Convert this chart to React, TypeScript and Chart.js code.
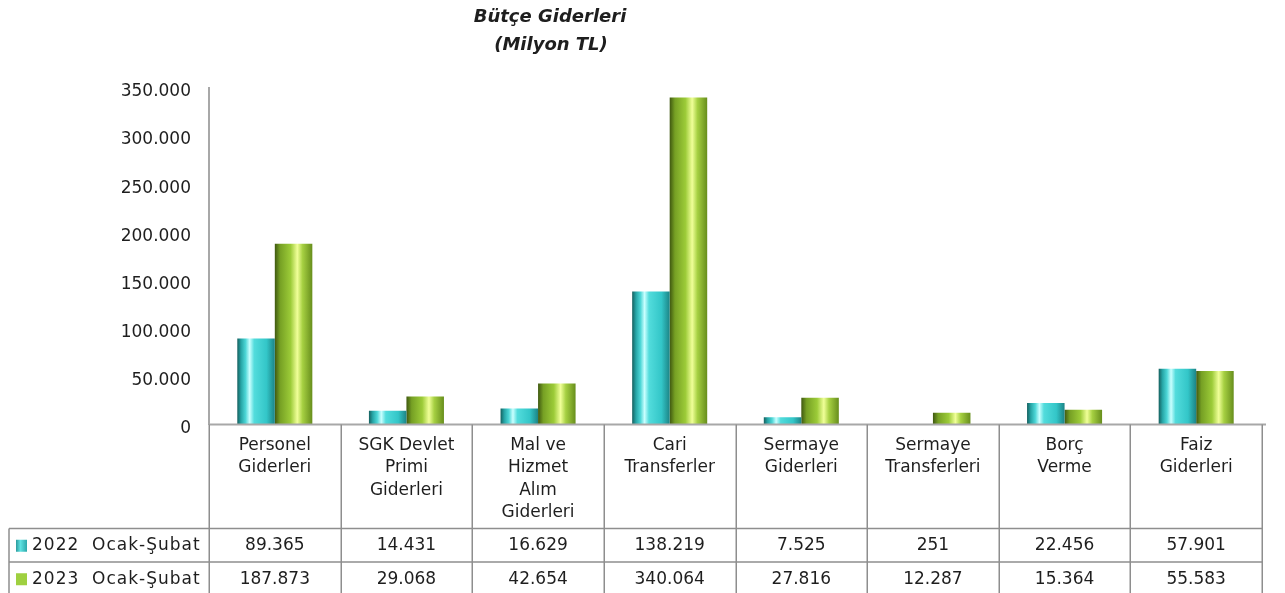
import React, { useEffect, useRef } from "react";
import { Chart, registerables } from "chart.js";

Chart.register(...registerables);

const title = ["Bütçe Giderleri", "(Milyon TL)"];
const categories: string[][] = [
  ["Personel", "Giderleri"],
  ["SGK Devlet", "Primi", "Giderleri"],
  ["Mal ve", "Hizmet", "Alım", "Giderleri"],
  ["Cari", "Transferler"],
  ["Sermaye", "Giderleri"],
  ["Sermaye", "Transferleri"],
  ["Borç", "Verme"],
  ["Faiz", "Giderleri"],
];
const seriesNames = ["2022  Ocak-Şubat", "2023  Ocak-Şubat"];
const values2022 = [89365, 14431, 16629, 138219, 7525, 251, 22456, 57901];
const values2023 = [187873, 29068, 42654, 340064, 27816, 12287, 15364, 55583];
const yTickValues = [0, 50000, 100000, 150000, 200000, 250000, 300000, 350000];

const FONT = "'DejaVu Sans', sans-serif";
const TEXT = "#1e1e1e";
const LINE = "#8e8e8e";
const CAT_PCT = 0.57;

const fmt = (v: number) => String(Math.round(v)).replace(/\B(?=(\d{3})+(?!\d))/g, ".");

const gradStops: [number, string][][] = [
  [
    [0, "#15605f"],
    [0.1, "#26a5a6"],
    [0.22, "#4cd6d6"],
    [0.33, "#c9ffff"],
    [0.45, "#52dcdc"],
    [0.78, "#33c6c8"],
    [1, "#1c8486"],
  ],
  [
    [0, "#3f5810"],
    [0.14, "#76a024"],
    [0.42, "#9ccb38"],
    [0.6, "#f0ff98"],
    [0.74, "#a6d042"],
    [1, "#678e1c"],
  ],
];
const baseColors = ["#33c6c8", "#9ccb38"];

function makeGrad(ctx: CanvasRenderingContext2D, x0: number, x1: number, idx: number) {
  const g = ctx.createLinearGradient(x0, 0, x1, 0);
  for (const [o, c] of gradStops[idx]) g.addColorStop(o, c);
  return g;
}

const barFill = (c: any) => {
  const chart = c.chart;
  const xs = chart.scales?.x;
  if (!xs || c.type !== "data" || !chart.chartArea) return baseColors[c.datasetIndex];
  const catW = xs.width / categories.length;
  const barW = (catW * CAT_PCT) / 2;
  const center = xs.getPixelForValue(c.dataIndex);
  const left = center - barW + c.datasetIndex * barW;
  return makeGrad(chart.ctx, left, left + barW, c.datasetIndex);
};

const tablePlugin = {
  id: "tablePlugin",
  afterDraw(chart: any) {
    const ctx: CanvasRenderingContext2D = chart.ctx;
    const area = chart.chartArea;
    const xs = chart.scales.x;
    const H = chart.height;
    const n = categories.length;
    const catW = xs.width / n;
    const headerBottom = area.bottom + 104;
    const rowH = 33.5;
    const tableLeft = 1;

    ctx.save();
    // title
    ctx.fillStyle = TEXT;
    ctx.font = `italic bold 18px ${FONT}`;
    ctx.textAlign = "center";
    ctx.textBaseline = "middle";
    ctx.fillText(title[0], 542, 9);
    ctx.fillText(title[1], 543, 37);

    // x axis line
    ctx.strokeStyle = "#a8a8a8";
    ctx.lineWidth = 2;
    ctx.beginPath();
    ctx.moveTo(area.left, area.bottom);
    ctx.lineTo(area.right + 4, area.bottom);
    ctx.stroke();

    // table grid
    ctx.strokeStyle = LINE;
    ctx.lineWidth = 1.5;
    ctx.beginPath();
    for (let i = 0; i <= n; i++) {
      const x = Math.round(xs.left + i * catW) + 0.25;
      ctx.moveTo(x, area.bottom);
      ctx.lineTo(x, H);
    }
    ctx.moveTo(tableLeft, headerBottom);
    ctx.lineTo(tableLeft, H);
    for (let r = 0; r < 2; r++) {
      const y = headerBottom + r * rowH;
      ctx.moveTo(tableLeft, y);
      ctx.lineTo(area.right, y);
    }
    ctx.stroke();

    // header labels
    ctx.fillStyle = TEXT;
    ctx.font = `17px ${FONT}`;
    ctx.textAlign = "center";
    ctx.textBaseline = "middle";
    categories.forEach((lines, i) => {
      const cx = xs.getPixelForValue(i);
      lines.forEach((t, k) => ctx.fillText(t, cx, area.bottom + 21 + k * 22.5));
    });

    // rows
    const data = [values2022, values2023];
    data.forEach((vals, r) => {
      const cy = headerBottom + r * rowH + rowH / 2 + 0.5;
      // icon
      const ix = 8, iw = 11, ih = 12;
      if (r === 0) {
        const g = ctx.createLinearGradient(ix, 0, ix + iw, 0);
        g.addColorStop(0, "#2a9a9c");
        g.addColorStop(0.4, "#5fe2e2");
        g.addColorStop(1, "#2ca8aa");
        ctx.fillStyle = g;
      } else {
        ctx.fillStyle = "#9fd040";
      }
      ctx.fillRect(ix, cy - ih / 2, iw, ih);
      ctx.fillStyle = TEXT;
      ctx.textAlign = "left";
      (ctx as any).letterSpacing = "1px";
      ctx.fillText(seriesNames[r], 24, cy);
      (ctx as any).letterSpacing = "0px";
      ctx.textAlign = "center";
      vals.forEach((v, i) => ctx.fillText(fmt(v), xs.getPixelForValue(i), cy));
    });
    ctx.restore();
  },
};

export default function App() {
  const ref = useRef<HTMLCanvasElement>(null);
  useEffect(() => {
    if (!ref.current) return;
    const chart = new Chart(ref.current, {
      type: "bar",
      data: {
        labels: categories.map((c) => c.join(" ")),
        datasets: [
          { label: seriesNames[0], data: values2022, backgroundColor: barFill, borderWidth: 0 },
          { label: seriesNames[1], data: values2023, backgroundColor: barFill, borderWidth: 0 },
        ],
      },
      options: {
        responsive: false,
        animation: false,
        events: [],
        layout: { padding: { top: 80, right: 15, bottom: 168.5, left: 0 } },
        datasets: { bar: { categoryPercentage: CAT_PCT, barPercentage: 1 } },
        plugins: { legend: { display: false }, title: { display: false }, tooltip: { enabled: false } },
        scales: {
          x: { display: false, offset: true },
          y: {
            min: 0,
            max: 350000,
            afterBuildTicks: (scale: any) => {
              scale.ticks = yTickValues.map((v) => ({ value: v }));
            },
            afterFit: (scale: any) => {
              scale.width = 201;
            },
            grid: { display: false, drawTicks: false },
            border: { display: true, color: "#a8a8a8", width: 2 },
            ticks: {
              padding: 18,
              labelOffset: 4,
              color: TEXT,
              font: { family: FONT, size: 17 },
              callback: (v: any) => fmt(Number(v)),
            },
          },
        },
      },
      plugins: [tablePlugin],
    });
    return () => chart.destroy();
  }, []);
  return (
    <div style={{ width: 1269, height: 585 }}>
      <canvas ref={ref} width={1269} height={585} style={{ display: "block" }} />
    </div>
  );
}
